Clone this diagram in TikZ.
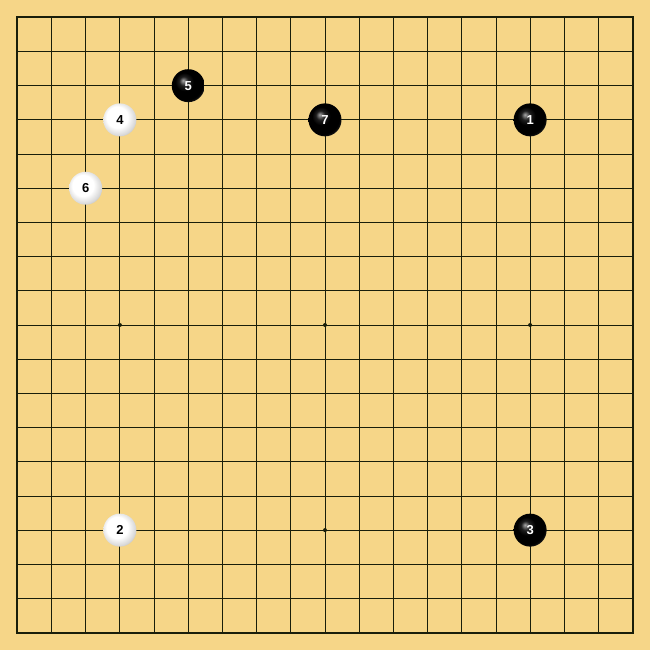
\documentclass[tikz,border=0pt]{standalone}
\usepackage{fontspec}
\setsansfont{Liberation Sans}

\definecolor{boardwood}{RGB}{246,214,136}
\definecolor{gridline}{RGB}{25,30,10}
\pgfdeclareradialshading{whiteshell}{\pgfpoint{-6bp}{6bp}}{color(0bp)=(white); color(16bp)=(white); color(26bp)=(black!15); color(36bp)=(black!40); color(50bp)=(black!40)}
\pgfdeclareradialshading{blackslate}{\pgfpoint{-8bp}{8bp}}{color(0bp)=(black!35); color(7bp)=(black!88); color(14bp)=(black); color(26bp)=(black); color(38bp)=(black!62); color(50bp)=(black!62)}

\begin{document}
\begin{tikzpicture}[x=34.19pt,y=-34.19pt,
  stone/.style={circle,minimum size=33pt,inner sep=0pt,font=\sffamily\bfseries\fontsize{13}{13}\selectfont},
  black stone/.style={stone,shading=blackslate,text=white},
  white stone/.style={stone,shading=whiteshell,text=black}]

\fill[boardwood] (-0.506,-0.506) rectangle (18.506,18.506);
\useasboundingbox (-0.506,-0.506) rectangle (18.506,18.506);

	% grid
\foreach \i in {1,...,17} {
  \draw[gridline,line width=0.8pt] (\i,0) -- (\i,18);
  \draw[gridline,line width=0.8pt] (0,\i) -- (18,\i);
}
\draw[gridline,line width=1.6pt] (0,0) rectangle (18,18);
\foreach \x/\y in {3/3,9/3,15/3,3/9,9/9,15/9,3/15,9/15,15/15}
  \fill[gridline] (\x,\y) circle (2pt);

	% stones
\node[black stone] (m1) at (15,3)  {1};
\node[white stone] (m2) at (3,15)  {2};
\node[black stone] (m3) at (15,15) {3};
\node[white stone] (m4) at (3,3)   {4};
\node[black stone] (m5) at (5,2)   {5};
\node[white stone] (m6) at (2,5)   {6};
\node[black stone] (m7) at (9,3)   {7};

\end{tikzpicture}
\end{document}
